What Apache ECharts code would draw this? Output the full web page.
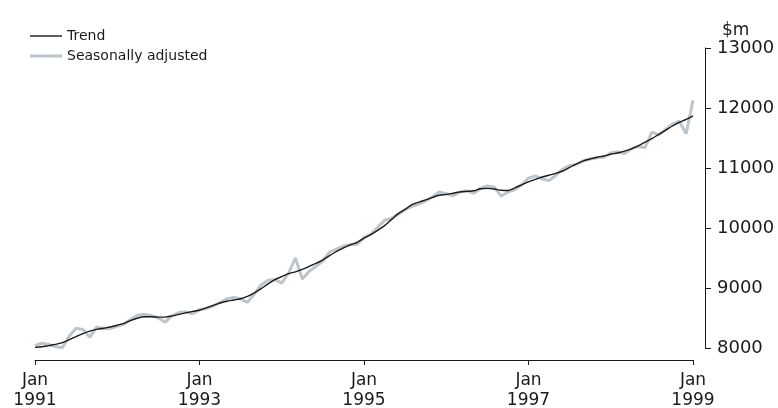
<!DOCTYPE html>
<html>
<head>
<meta charset="utf-8">
<script src="https://cdn.jsdelivr.net/npm/echarts@6/dist/echarts.min.js"></script>
<style>
html,body{margin:0;padding:0;background:#fff;}
#chart{width:778px;height:408px;}
</style>
</head>
<body>
<div id="chart"></div>
<script>
// Monthly categories Jan 1991 .. Jan 1999
var monthNames = ['Jan','Feb','Mar','Apr','May','Jun','Jul','Aug','Sep','Oct','Nov','Dec'];
var startYear = 1991, endYear = 1999;
var categories = [];
for (var y = startYear; y < endYear; y++) {
  for (var m = 0; m < 12; m++) categories.push(monthNames[m] + ' ' + y);
}
categories.push('Jan ' + endYear);

var trend = [
  8010, 8020, 8040, 8060, 8090, 8140, 8190, 8240, 8280, 8310, 8330, 8350,
  8380, 8410, 8460, 8500, 8520, 8520, 8515, 8515, 8535, 8560, 8585, 8610,
  8630, 8670, 8710, 8750, 8780, 8800, 8820, 8860, 8920, 8990, 9070, 9140,
  9190, 9240, 9270, 9310, 9360, 9410, 9470, 9540, 9610, 9670, 9720, 9760,
  9830, 9890, 9960, 10040, 10140, 10240, 10310, 10390, 10430, 10470, 10510, 10545,
  10560, 10580, 10600, 10610, 10620, 10655, 10660, 10650, 10630, 10625, 10670, 10720,
  10770, 10810, 10850, 10880, 10910, 10950, 11010, 11070, 11120, 11150, 11180, 11200,
  11230, 11250, 11280, 11320, 11370, 11430, 11490, 11560, 11630, 11700, 11760, 11810,
  11870
];

var seasonallyAdjusted = [
  8040, 8080, 8060, 8020, 8010, 8200, 8330, 8310, 8180, 8350, 8320, 8330,
  8360, 8400, 8480, 8550, 8560, 8540, 8500, 8430, 8540, 8590, 8600, 8570,
  8640, 8660, 8700, 8760, 8820, 8840, 8820, 8760, 8900, 9050, 9130, 9140,
  9080, 9250, 9500, 9150, 9280, 9360, 9450, 9600, 9650, 9700, 9720, 9730,
  9840, 9900, 10010, 10130, 10160, 10230, 10310, 10360, 10400, 10450, 10520, 10600,
  10570, 10540, 10600, 10620, 10580, 10660, 10700, 10680, 10530, 10600, 10640, 10720,
  10830, 10870, 10820, 10790, 10880, 10980, 11040, 11060, 11120, 11150, 11170, 11180,
  11250, 11270, 11240, 11320, 11360, 11340, 11600, 11550, 11640, 11730, 11780, 11570,
  12130
];

var yTicks = [8000, 9000, 10000, 11000, 12000, 13000];
var seriesNames = ['Trend', 'Seasonally adjusted'];
var unitLabel = '$m';

var FONT = 'DejaVu Sans';
var TREND_COLOR = '#1a1a1a';
var SA_COLOR = '#bcc5cc';
var chart = echarts.init(document.getElementById('chart'), null, {renderer: 'canvas'});
chart.setOption({
  animation: false,
  backgroundColor: '#ffffff',
  textStyle: {fontFamily: FONT, color: '#1a1a1a'},
  legend: {
    orient: 'vertical',
    left: 25,
    top: 24,
    itemWidth: 32,
    itemHeight: 14,
    itemGap: 6,
    symbolKeepAspect: true,
    textStyle: {fontFamily: FONT, fontSize: 14, color: '#1a1a1a'},
    data: [
      {name: seriesNames[0], icon: 'path://M0,0H32V1.4H0Z', itemStyle: {color: TREND_COLOR}},
      {name: seriesNames[1], icon: 'path://M0,0H32V3H0Z', itemStyle: {color: SA_COLOR}}
    ]
  },
  grid: {left: 35, right: 85, top: 48, bottom: 60, containLabel: false, outerBoundsMode: 'none'},
  xAxis: {
    type: 'category',
    data: categories,
    boundaryGap: false,
    offset: 12,
    axisLine: {show: true, lineStyle: {color: '#1a1a1a', width: 1}},
    axisTick: {
      show: true, length: 5, lineStyle: {color: '#1a1a1a'},
      interval: function (i) { return i % 24 === 0; }
    },
    axisLabel: {
      interval: function (i) { return i % 24 === 0; },
      formatter: function (v) { return v.replace(' ', '\n'); },
      fontFamily: FONT, fontSize: 17, color: '#1a1a1a', lineHeight: 20, margin: 11
    },
    splitLine: {show: false}
  },
  yAxis: {
    type: 'value',
    position: 'right',
    min: yTicks[0],
    max: yTicks[yTicks.length - 1],
    interval: 1000,
    offset: 12,
    name: unitLabel,
    nameLocation: 'end',
    nameGap: 6,
    nameTextStyle: {fontFamily: FONT, fontSize: 17, color: '#1a1a1a', align: 'left', padding: [0, 0, 0, 17]},
    axisLine: {show: true, lineStyle: {color: '#1a1a1a', width: 1}},
    axisTick: {show: true, length: 6, lineStyle: {color: '#1a1a1a'}},
    axisLabel: {
      fontFamily: FONT, fontSize: 18, color: '#1a1a1a', margin: 12,
      formatter: function (v) { return String(v); }
    },
    splitLine: {show: false}
  },
  series: [
    {
      name: seriesNames[1],
      type: 'line',
      data: seasonallyAdjusted,
      symbol: 'none',
      lineStyle: {color: SA_COLOR, width: 3},
      itemStyle: {color: SA_COLOR},
      z: 1
    },
    {
      name: seriesNames[0],
      type: 'line',
      data: trend,
      symbol: 'none',
      smooth: 0.3,
      lineStyle: {color: TREND_COLOR, width: 1.4},
      itemStyle: {color: TREND_COLOR},
      z: 2
    }
  ]
});
</script>
</body>
</html>
